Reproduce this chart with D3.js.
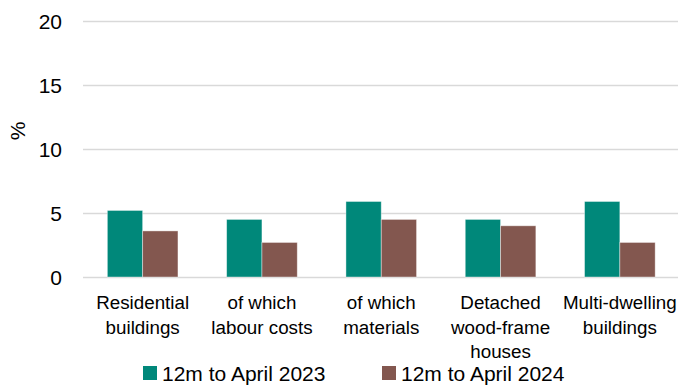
<!DOCTYPE html>
<html>
<head>
<meta charset="utf-8">
<script src="https://cdn.jsdelivr.net/npm/d3@7"></script>
<style>
  html, body { margin: 0; padding: 0; background: #fff; }
  svg { display: block; font-family: "Liberation Sans", Arial, sans-serif; }
</style>
</head>
<body>
<svg id="chart" width="678" height="385"></svg>
<script>
// Price change by building type, per cent
const categories = [
  ["Residential", "buildings"],
  ["of which", "labour costs"],
  ["of which", "materials"],
  ["Detached", "wood-frame", "houses"],
  ["Multi-dwelling", "buildings"]
];
const seriesNames = ["12m to April 2023", "12m to April 2024"];
const values2023 = [5.2, 4.5, 5.9, 4.5, 5.9];
const values2024 = [3.6, 2.7, 4.5, 4.0, 2.7];
const yTicks = [0, 5, 10, 15, 20];
const colors = ["#00887a", "#83574f"];

const svg = d3.select("#chart");
const plotLeft = 83, plotRight = 679.5, plotTop = 21, plotBottom = 277;

const x0 = d3.scaleBand()
  .domain(d3.range(categories.length))
  .range([plotLeft, plotRight])
  .paddingInner(0.408)
  .paddingOuter(0.204);
const x1 = d3.scaleBand()
  .domain([0, 1])
  .range([0, x0.bandwidth()]);
const y = d3.scaleLinear().domain([0, 20]).range([plotBottom, plotTop]);

// gridlines and value axis
const yAxis = d3.axisLeft(y).tickValues(yTicks).tickSize(0).tickPadding(0);
const gy = svg.append("g").attr("transform", `translate(${plotLeft},0)`).call(yAxis);
gy.select(".domain").remove();
gy.selectAll(".tick line")
  .attr("x2", 678 - plotLeft)
  .attr("stroke", "#d9d9d9")
  .attr("stroke-width", 1.3);
gy.selectAll(".tick text")
  .attr("x", 62 - plotLeft)
  .attr("dy", "0.36em")
  .attr("fill", "#000")
  .style("font-size", "21px")
  .style("font-family", "'Liberation Sans', Arial, sans-serif");

// axis title
svg.append("text")
  .attr("transform", "translate(25,131) rotate(-90)")
  .attr("text-anchor", "middle")
  .style("font-size", "21px")
  .text("%");

// bars
const data = categories.map((c, i) => [values2023[i], values2024[i]]);
const groups = svg.append("g").selectAll("g")
  .data(data)
  .join("g")
  .attr("transform", (d, i) => `translate(${x0(i)},0)`);
groups.selectAll("rect")
  .data(d => d.map((v, k) => ({ v, k })))
  .join("rect")
  .attr("x", d => x1(d.k))
  .attr("width", x1.bandwidth())
  .attr("y", d => y(d.v))
  .attr("height", d => y(0) - y(d.v))
  .attr("fill", d => colors[d.k])
  .attr("stroke", "#ffffff")
  .attr("stroke-opacity", 0.5)
  .attr("stroke-width", 0.8);

// category labels
const labels = svg.append("g").selectAll("text")
  .data(categories)
  .join("text")
  .attr("text-anchor", "middle")
  .attr("x", (d, i) => x0(i) + x0.bandwidth() / 2)
  .attr("y", 309)
  .style("font-size", "18.8px")
  .attr("fill", "#000");
labels.selectAll("tspan")
  .data(d => d)
  .join("tspan")
  .attr("x", function () { return this.parentNode.getAttribute("x"); })
  .attr("dy", (d, j) => j === 0 ? 0 : 24.5)
  .text(d => d);

// legend
const legendX = [143, 382];
const legend = svg.append("g").selectAll("g")
  .data(seriesNames)
  .join("g")
  .attr("transform", (d, i) => `translate(${legendX[i]},0)`);
legend.append("rect")
  .attr("x", 0).attr("y", 366)
  .attr("width", 14).attr("height", 14)
  .attr("fill", (d, i) => colors[i]);
legend.append("text")
  .attr("x", 19).attr("y", 380.5)
  .style("font-size", "21px")
  .attr("fill", "#000")
  .text(d => d);
</script>
</body>
</html>
